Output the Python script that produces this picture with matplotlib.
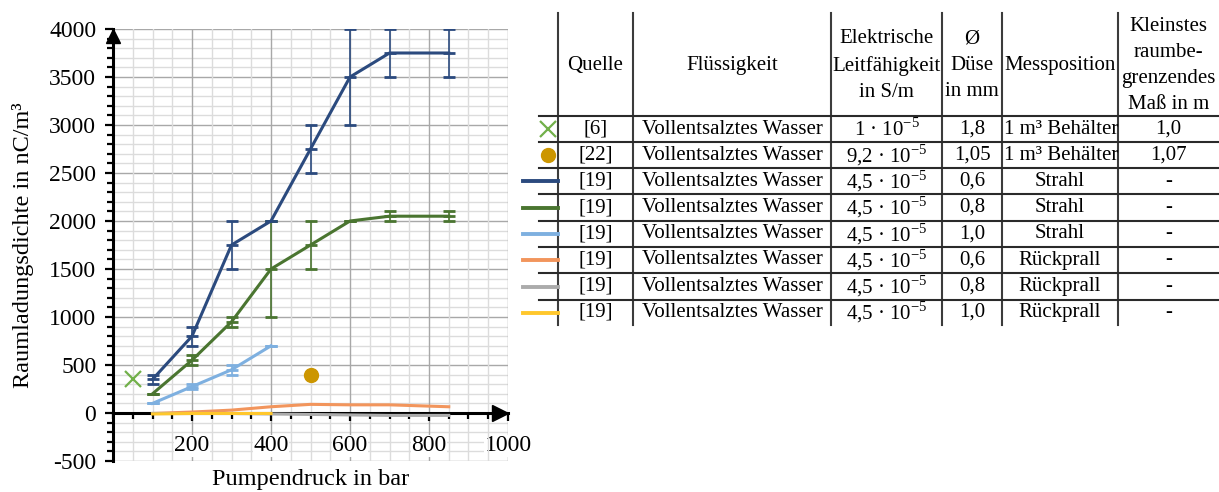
import numpy as np
import matplotlib
matplotlib.use('Agg')
import matplotlib.pyplot as plt
from matplotlib.ticker import MultipleLocator, FixedLocator

plt.rcParams['font.family'] = ['Liberation Serif', 'DejaVu Serif']
plt.rcParams['mathtext.fontset'] = 'custom'
plt.rcParams['mathtext.rm'] = 'Liberation Serif'
plt.rcParams['axes.unicode_minus'] = False

# ---- chart data (Pumpendruck in bar -> Raumladungsdichte in nC/m^3) ----
p_long = [100, 200, 300, 400, 500, 600, 700, 850]
p_short = [100, 200, 300, 400]

strahl_06 = [350, 800, 1750, 2000, 2750, 3500, 3750, 3750]
strahl_06_err = [50, 100, 250, 0, 250, 500, 250, 250]
strahl_08 = [200, 550, 950, 1500, 1750, 2000, 2050, 2050]
strahl_08_err = [0, 50, 50, 500, 250, 0, 50, 50]
strahl_10 = [100, 275, 450, 700]
strahl_10_err = [0, 25, 50, 0]
rueck_06 = [-5, 10, 30, 65, 90, 85, 85, 65]
rueck_08 = [-5, -5, -5, -10, -15, -20, -25, -25]
rueck_10 = [-10, -5, -5, -5]

ref6_x, ref6_y = [50], [350]
ref22_x, ref22_y = [500], [400]

# ---- table data ----
header = ['Quelle', 'Flüssigkeit', 'Elektrische\nLeitfähigkeit\nin S/m',
          'Ø\nDüse\nin mm', 'Messposition', 'Kleinstes\nraumbe-\ngrenzendes\nMaß in m']
quelle = ['[6]', '[22]', '[19]', '[19]', '[19]', '[19]', '[19]', '[19]']
fluessigkeit = ['Vollentsalztes Wasser'] * 8
leitfaehigkeit = ['1 · 10$^{-5}$', '9,2 · 10$^{-5}$'] + ['4,5 · 10$^{-5}$'] * 6
duese = ['1,8', '1,05', '0,6', '0,8', '1,0', '0,6', '0,8', '1,0']
messposition = ['1 m³ Behälter', '1 m³ Behälter', 'Strahl', 'Strahl', 'Strahl',
                'Rückprall', 'Rückprall', 'Rückprall']
mass = ['1,0', '1,07', '-', '-', '-', '-', '-', '-']

c_dblue = '#2B4A7E'
c_green = '#4A7530'
c_lblue = '#7EB0E0'
c_orange = '#F2955C'
c_gray = '#ABABAB'
c_yellow = '#FFC72C'
c_x = '#72B04A'
c_gold = '#CC9600'

fig = plt.figure(figsize=(12.19, 4.92), dpi=100)
ax = fig.add_axes([113/1219, 1-461/492, 395/1219, 432/492])

ax.set_xlim(0, 1000)
ax.set_ylim(-500, 4000)

# grid like the Excel chart
ax.xaxis.set_major_locator(FixedLocator([200, 400, 600, 800, 1000]))
ax.xaxis.set_minor_locator(MultipleLocator(50))
ax.yaxis.set_major_locator(MultipleLocator(500))
ax.yaxis.set_minor_locator(MultipleLocator(100))
ax.grid(which='major', color='#A8A8A8', lw=1.0)
ax.grid(which='minor', color='#DCDCDC', lw=1.0)
ax.set_axisbelow(True)
ax.xaxis.set_zorder(1)  # x tick labels (white box) above the horizontal grid

# axes through the origin
for s in ['top', 'right']:
    ax.spines[s].set_visible(False)
ax.spines['bottom'].set_position(('data', 0))
ax.spines['left'].set_position(('data', 0))
ax.spines['bottom'].set_linewidth(2.2)
ax.spines['left'].set_linewidth(2.2)
ax.tick_params(axis='both', which='major', labelsize=17, width=1.6, length=6, direction='out')
ax.tick_params(axis='both', which='minor', width=1.6, length=4, direction='out')
ax.tick_params(axis='x', which='major', pad=10)
ax.tick_params(axis='y', which='major', pad=6)

# arrow heads
ax.plot([0], [3930], marker='^', color='k', ms=10, clip_on=False, zorder=6)
ax.plot([979], [0], marker='>', color='k', ms=12, clip_on=False, zorder=6)

ekw = dict(capsize=4, elinewidth=1.2, capthick=1.2)
ax.errorbar(p_long, strahl_06, yerr=strahl_06_err, color=c_dblue, lw=2.2,
            marker='_', ms=8, mew=2, zorder=4, **ekw)
ax.errorbar(p_long, strahl_08, yerr=strahl_08_err, color=c_green, lw=2.2,
            marker='_', ms=8, mew=2, zorder=4, **ekw)
ax.errorbar(p_short, strahl_10, yerr=strahl_10_err, color=c_lblue, lw=2.2,
            marker='_', ms=8, mew=2, zorder=4, **ekw)
ax.plot(p_long, rueck_06, color=c_orange, lw=2.2, zorder=4)
ax.plot(p_long, rueck_08, color=c_gray, lw=2.2, zorder=4)
ax.plot(p_short, rueck_10, color=c_yellow, lw=2.2, zorder=5)
ax.plot(ref6_x, ref6_y, 'x', color=c_x, ms=11, mew=1.6, zorder=5)
ax.plot(ref22_x, ref22_y, 'o', color=c_gold, ms=10, zorder=5)

fig.text(23/1219, 1-245/492, 'Raumladungsdichte in nC/m³', rotation=90,
         ha='center', va='center', fontsize=17.5)
fig.text(311/1219, 1-480/492, 'Pumpendruck in bar', ha='center', va='center',
         fontsize=17.5)

# ---- table drawn in pixel coordinates ----
tab = fig.add_axes([0, 0, 1, 1])
tab.set_xlim(0, 1219)
tab.set_ylim(492, 0)
tab.axis('off')

col_edges = [558, 633, 831, 942, 1002, 1118, 1219]
row_edges = [116, 142, 168, 194, 221, 247, 273, 300, 325]
top = 13
fs = 15

for x in col_edges[:-1]:
    tab.plot([x, x], [top, row_edges[-1]], color='#3C3C3C', lw=1.5)
for y in row_edges[:-1]:
    tab.plot([539, 1219], [y, y], color='#2A2A2A', lw=1.5)

centers = [(col_edges[i] + col_edges[i+1]) / 2 for i in range(6)]
head_y = (top + row_edges[0]) / 2 + 1
for cx, h in zip(centers, header):
    tab.text(cx, head_y, h, ha='center', va='center', fontsize=fs, linespacing=1.5)

for i in range(8):
    cy = (row_edges[i] + row_edges[i+1]) / 2
    tab.text(centers[0], cy, quelle[i], ha='center', va='center', fontsize=fs)
    tab.text(centers[1], cy, fluessigkeit[i], ha='center', va='center', fontsize=fs)
    tab.text(centers[2], cy, leitfaehigkeit[i], ha='center', va='center', fontsize=fs)
    tab.text(centers[3], cy, duese[i], ha='center', va='center', fontsize=fs)
    if messposition[i].startswith('1 m'):
        tab.text(1004, cy, messposition[i], ha='left', va='center', fontsize=fs)
    else:
        tab.text(centers[4], cy, messposition[i], ha='center', va='center', fontsize=fs)
    tab.text(centers[5], cy, mass[i], ha='center', va='center', fontsize=fs)

# legend symbols in the first column
row_c = [(row_edges[i] + row_edges[i+1]) / 2 for i in range(8)]
tab.plot([548], [row_c[0]], 'x', color=c_x, ms=11, mew=1.6)
tab.plot([548], [row_c[1]], 'o', color=c_gold, ms=10)
for i, c in zip(range(2, 8), [c_dblue, c_green, c_lblue, c_orange, c_gray, c_yellow]):
    tab.plot([523, 558], [row_c[i], row_c[i]], color=c, lw=2.8)

# white box behind the x tick labels so the grid does not run through them
fig.canvas.draw()
for lbl in ax.get_xticklabels():
    lbl.set_bbox(dict(facecolor='white', edgecolor='none', pad=0.5))

fig.savefig('out.png', dpi=100)
